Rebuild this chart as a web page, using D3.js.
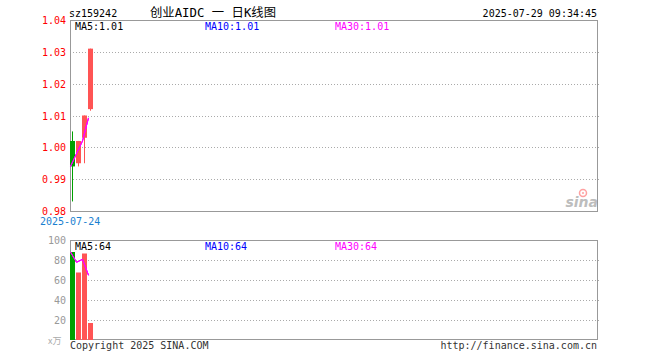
<!DOCTYPE html>
<html>
<head>
<meta charset="utf-8">
<script src="https://cdn.jsdelivr.net/npm/d3@7"></script>
<style>
  body { margin: 0; background: #fff; }
  text { font-family: "DejaVu Sans Mono", monospace; font-size: 10px; }
</style>
</head>
<body>
<svg id="chart" width="660" height="360"></svg>
<script>
// daily K data
const dates = ["2025-07-24", "2025-07-25", "2025-07-28", "2025-07-29"];
const open = [1.002, 0.995, 1.003, 1.012];
const close = [0.994, 1.002, 1.010, 1.031];
const high = [1.005, 1.002, 1.010, 1.031];
const low = [0.983, 0.994, 0.995, 1.0115];
const volume = [88, 67.5, 86.5, 17]; // 万手

const priceTicks = [0.98, 0.99, 1.00, 1.01, 1.02, 1.03, 1.04];
const volTicks = [20, 40, 60, 80, 100];
const slots = 88;

const code = "sz159242";
const title = "创业AIDC 一 日K线图";
const stamp = "2025-07-29 09:34:45";

const RED = "#ff5454", GREEN = "#00a000";
const svg = d3.select("#chart");

const left = 70, right = 597;
const x = d3.scaleLinear().domain([0, slots]).range([left, left + slots * 6]);
const barW = 5;
const yP = d3.scaleLinear().domain([0.98, 1.04]).range([211, 20]);
const yV = d3.scaleLinear().domain([0, 100]).range([340, 240]);

const rows = dates.map((d, i) => ({
    i, date: d, open: open[i], close: close[i], high: high[i], low: low[i], vol: volume[i]
}));

// moving average over the available days
function ma(vals, n) {
    return vals.map((v, i) => d3.mean(vals.slice(Math.max(0, i - n + 1), i + 1)));
}

function panel(y0, y1, scale, ticks, fmt, labelColor) {
    svg.append("g").selectAll("line")
        .data(ticks.filter(t => scale(t) > y0 + 2 && scale(t) < y1 - 2))
        .join("line")
        .attr("x1", left).attr("x2", right + 2)
        .attr("y1", d => Math.round(scale(d)) + 0.5)
        .attr("y2", d => Math.round(scale(d)) + 0.5)
        .attr("stroke", "#aaa")
        .attr("stroke-dasharray", "1,2");
    svg.append("rect")
        .attr("x", left + 0.5).attr("y", y0 + 0.5)
        .attr("width", right - left).attr("height", y1 - y0 - 1)
        .attr("fill", "none").attr("stroke", "#999");
    svg.append("g").selectAll("text")
        .data(ticks)
        .join("text")
        .attr("x", 66)
        .attr("y", d => scale(d) + 4)
        .attr("text-anchor", "end")
        .attr("fill", labelColor)
        .text(fmt);
}

panel(20, 212, yP, priceTicks, d => d.toFixed(2), "#f00");
panel(240, 340, yV, volTicks, d => d, "#999");

// header
svg.append("text").attr("x", 69).attr("y", 17).text(code);
svg.append("text").attr("x", 150).attr("y", 17)
    .style("font-family", "'DejaVu Sans Mono', 'Noto Sans CJK SC'")
    .style("font-size", "12px")
    .attr("textLength", 126).attr("lengthAdjust", "spacingAndGlyphs")
    .text(title);
svg.append("text").attr("x", 597).attr("y", 17).attr("text-anchor", "end").text(stamp);

// candles
const k = svg.append("g");
k.selectAll("line")
    .data(rows)
    .join("line")
    .attr("x1", d => x(d.i) + 2.5).attr("x2", d => x(d.i) + 2.5)
    .attr("y1", d => yP(d.high)).attr("y2", d => yP(d.low))
    .attr("stroke", d => d.close >= d.open ? RED : GREEN);
k.selectAll("rect")
    .data(rows)
    .join("rect")
    .attr("x", d => x(d.i))
    .attr("width", barW)
    .attr("y", d => yP(Math.max(d.open, d.close)))
    .attr("height", d => Math.max(1, Math.abs(yP(d.open) - yP(d.close))))
    .attr("fill", d => d.close >= d.open ? RED : GREEN);

// volume bars
svg.append("g").selectAll("rect")
    .data(rows)
    .join("rect")
    .attr("x", d => x(d.i))
    .attr("width", barW)
    .attr("y", d => yV(d.vol))
    .attr("height", d => yV(0) - yV(d.vol))
    .attr("fill", d => d.close >= d.open ? RED : GREEN);

// MA lines (all coincide with so few days; MA30 on top)
const maDefs = [
    { name: "MA5", n: 5, color: "#000", lx: 75 },
    { name: "MA10", n: 10, color: "#0000ff", lx: 205 },
    { name: "MA30", n: 30, color: "#ff00ff", lx: 335 }
];
maDefs.forEach(m => {
    const pm = ma(close, m.n), vm = ma(volume, m.n);
    svg.append("path")
        .attr("d", d3.line().x((d, i) => x(i) + 0.5).y(d => yP(d))(pm))
        .attr("fill", "none").attr("stroke", "#ff00ff").attr("stroke-width", 1);
    svg.append("path")
        .attr("d", d3.line().x((d, i) => x(i) + 0.5).y(d => yV(d))(vm))
        .attr("fill", "none").attr("stroke", "#ff00ff").attr("stroke-width", 1);
    svg.append("text").attr("x", m.lx).attr("y", 29.5).attr("fill", m.color)
        .text(`${m.name}:${pm[pm.length - 1].toFixed(2)}`);
    svg.append("text").attr("x", m.lx).attr("y", 249.5).attr("fill", m.color)
        .text(`${m.name}:${Math.floor(vm[vm.length - 1])}`);
});

// footer texts
svg.append("text").attr("x", 40).attr("y", 225).attr("fill", "#1a7fd0").text(dates[0]);
svg.append("text").attr("x", 48).attr("y", 344).attr("fill", "#aaa")
    .style("font-family", "'Noto Sans CJK SC'").style("font-size", "9px").text("x万");
svg.append("text").attr("x", 70).attr("y", 349).attr("fill", "#333").text("Copyright 2025 SINA.COM");
svg.append("text").attr("x", 597).attr("y", 349).attr("text-anchor", "end").attr("fill", "#333")
    .text("http://finance.sina.com.cn");

// sina watermark
const logo = svg.append("g").attr("opacity", 0.55);
logo.append("circle").attr("cx", 583).attr("cy", 193).attr("r", 3.5)
    .attr("fill", "none").attr("stroke", "#f55").attr("stroke-width", 1.5);
logo.append("circle").attr("cx", 583).attr("cy", 193).attr("r", 1).attr("fill", "#f55");
logo.append("text").attr("x", 598).attr("y", 207).attr("text-anchor", "end")
    .style("font-family", "'DejaVu Sans'").style("font-size", "14px")
    .style("font-weight", "bold").style("font-style", "italic")
    .attr("fill", "#888").text("sina");
</script>
</body>
</html>
